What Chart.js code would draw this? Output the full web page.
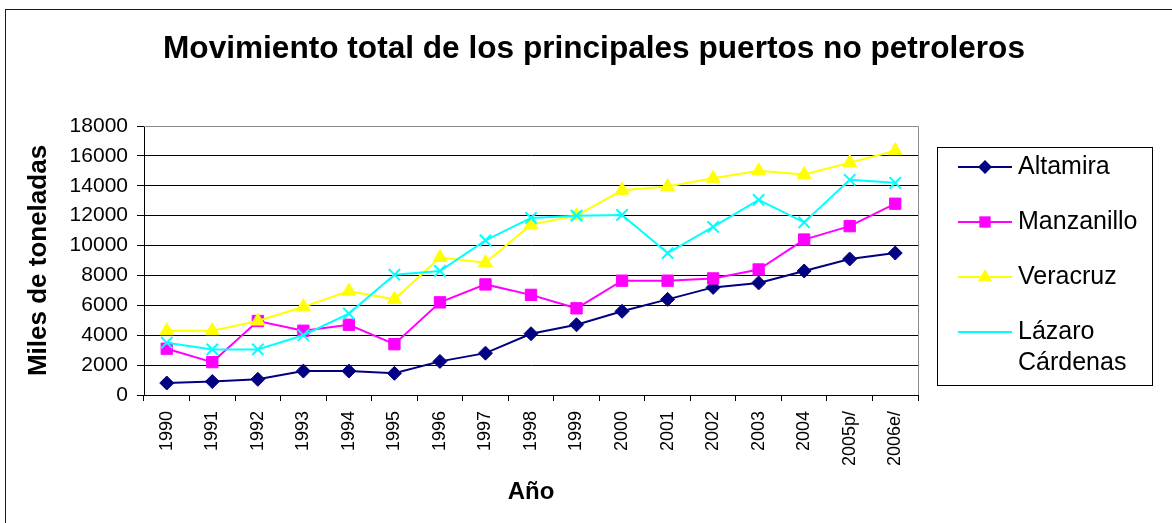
<!DOCTYPE html>
<html>
<head>
<meta charset="utf-8">
<script src="https://cdn.jsdelivr.net/npm/chart.js@4/dist/chart.umd.min.js"></script>
<style>
  html, body { margin: 0; padding: 0; background: #fff; }
  #wrap { width: 1172px; height: 523px; }
</style>
</head>
<body>
<div id="wrap"><canvas id="myChart"></canvas></div>
<script>
const years = ['1990', '1991', '1992', '1993', '1994', '1995', '1996', '1997', '1998',
  '1999', '2000', '2001', '2002', '2003', '2004', '2005p/', '2006e/'];
const altamira = [800, 900, 1050, 1600, 1600, 1450, 2250, 2800, 4100, 4700, 5600, 6400, 7200, 7500, 8300, 9100, 9500];
const manzanillo = [3100, 2200, 4950, 4300, 4700, 3400, 6200, 7400, 6700, 5800, 7650, 7650, 7800, 8400, 10400, 11300, 12800];
const veracruz = [4300, 4300, 4950, 5900, 6950, 6400, 9200, 8850, 11400, 12000, 13700, 13950, 14500, 15000, 14750, 15550, 16350];
const lazaro = [3500, 3050, 3050, 4000, 5450, 8050, 8300, 10350, 11850, 12000, 12050, 9500, 11250, 13050, 11550, 14400, 14200];
const yTicks = [0, 2000, 4000, 6000, 8000, 10000, 12000, 14000, 16000, 18000];
const chartTitle = 'Movimiento total de los principales puertos no petroleros';

const FONT = "'Liberation Sans', Arial, sans-serif";

// frame, title, plot border and the legend box on the right
const extras = {
  id: 'extras',
  beforeDraw(chart) {
    const c = chart.ctx;
    c.save();
    c.strokeStyle = '#1a1a1a';
    c.lineWidth = 1;
    c.strokeRect(5.5, 9.5, 1200, 600);
    c.fillStyle = '#000';
    c.font = 'bold 31.6px ' + FONT;
    c.textAlign = 'center';
    c.textBaseline = 'middle';
    c.fillText(chartTitle, 594, 49);
    c.restore();
  },
  beforeDatasetsDraw(chart) {
    const c = chart.ctx, a = chart.chartArea;
    c.save();
    c.strokeStyle = '#8c8c8c';
    c.lineWidth = 1;
    c.beginPath();
    c.moveTo(a.left, a.top + 0.5);
    c.lineTo(a.right + 0.5, a.top + 0.5);
    c.lineTo(a.right + 0.5, a.bottom);
    c.stroke();
    c.restore();
  },
  afterDraw(chart) {
    const c = chart.ctx;
    const bx = 937, by = 147, bw = 215, bh = 238;
    c.save();
    c.strokeStyle = '#000';
    c.lineWidth = 1;
    c.strokeRect(bx + 0.5, by + 0.5, bw, bh);
    c.font = '25px ' + FONT;
    c.textBaseline = 'middle';
    c.fillStyle = '#000';
    chart.data.datasets.forEach((ds, i) => {
      const y = 167 + i * 55;
      c.strokeStyle = ds.borderColor;
      c.lineWidth = 2;
      c.beginPath();
      c.moveTo(958, y);
      c.lineTo(1012, y);
      c.stroke();
      c.fillStyle = ds.pointBackgroundColor;
      c.strokeStyle = ds.pointBorderColor;
      c.lineWidth = ds.pointBorderWidth;
      Chart.helpers.drawPoint(c, { pointStyle: ds.pointStyle, radius: ds.pointRadius, rotation: 0 }, 985, y);
      c.fillStyle = '#000';
      const words = ds.label.split(' ');
      let line = '', ly = y;
      words.forEach(w => {
        const t = line ? line + ' ' + w : w;
        if (line && c.measureText(t).width > 128) {
          c.fillText(line, 1018, ly);
          line = w;
          ly += 31;
        } else {
          line = t;
        }
      });
      c.fillText(line, 1018, ly);
    });
    c.restore();
  }
};

function series(label, data, color, style, radius, order) {
  return {
    label: label,
    data: data,
    borderColor: color,
    backgroundColor: color,
    borderWidth: 2,
    pointStyle: style,
    pointRadius: radius,
    pointHoverRadius: radius,
    pointBackgroundColor: color,
    pointBorderColor: color,
    pointBorderWidth: style === 'crossRot' ? 2 : 1,
    tension: 0,
    order: order
  };
}

const ctx = document.getElementById('myChart').getContext('2d');
const chart = new Chart(ctx, {
  type: 'line',
  data: {
    labels: years,
    datasets: [
      series('Altamira', altamira, '#000080', 'rectRot', 7, 4),
      series('Manzanillo', manzanillo, '#FF00FF', 'rect', 8, 3),
      series('Veracruz', veracruz, '#FFFF00', 'triangle', 8, 2),
      series('Lázaro Cárdenas', lazaro, '#00FFFF', 'crossRot', 8, 1)
    ]
  },
  options: {
    responsive: true,
    maintainAspectRatio: false,
    animation: false,
    layout: { padding: { left: 0, right: 254, top: 126, bottom: 0 } },
    plugins: {
      legend: { display: false },
      tooltip: { enabled: false },
      title: { display: false }
    },
    scales: {
      x: {
        offset: true,
        afterFit: s => { s.height = 128; },
        grid: { offset: true, drawOnChartArea: false, drawTicks: true, tickLength: 6, color: '#000' },
        border: { color: '#000', width: 1 },
        ticks: {
          color: '#000',
          font: { family: FONT, size: 18 },
          minRotation: 90,
          maxRotation: 90,
          autoSkip: false,
          padding: 10
        },
        title: {
          display: true,
          text: 'Año',
          color: '#000',
          font: { family: FONT, size: 24, weight: 'bold' },
          padding: { top: 16, bottom: 16 }
        }
      },
      y: {
        min: 0,
        max: 18000,
        afterFit: s => { s.width = 144; },
        afterBuildTicks: s => { s.ticks = yTicks.map(v => ({ value: v })); },
        grid: {
          color: c => c.tick && c.tick.value === 18000 ? '#8c8c8c' : '#000',
          tickLength: 7,
          tickColor: '#000'
        },
        border: { color: '#000', width: 1 },
        ticks: {
          color: '#000',
          font: { family: FONT, size: 21 },
          padding: 9,
          callback: v => String(v)
        },
        title: {
          display: true,
          text: 'Miles de toneladas',
          color: '#000',
          font: { family: FONT, size: 26, weight: 'bold' },
          padding: { top: 23, bottom: 23 }
        }
      }
    }
  },
  plugins: [extras]
});
</script>
</body>
</html>
